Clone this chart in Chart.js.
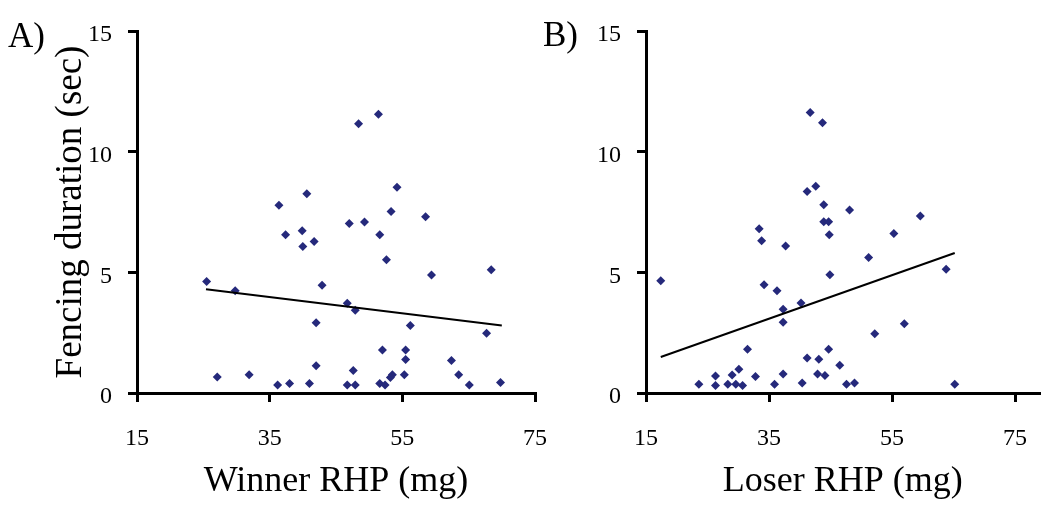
<!DOCTYPE html>
<html><head><meta charset="utf-8">
<script src="https://cdn.jsdelivr.net/npm/chart.js@4/dist/chart.umd.min.js"></script>
<style>
html,body{margin:0;padding:0;background:#fff;}
#wrap{position:relative;width:1050px;height:508px;overflow:hidden;background:#fff;}
canvas{position:absolute;top:0;}
.lbl{position:absolute;font-family:'Liberation Serif','Times New Roman',serif;font-size:35px;line-height:1;color:#000;white-space:nowrap;}
</style></head><body>
<div id="wrap">
<canvas id="cA" width="572" height="508" style="left:0px"></canvas>
<canvas id="cB" width="510" height="508" style="left:540px"></canvas>
<div class="lbl" style="left:8px;top:18px">A)</div>
<div class="lbl" style="left:543px;top:17px">B)</div>
</div>
<script>
// Panel A: winner RHP (mg) vs fencing duration (sec)
const winnerRHP = [48.4,51.4,40.6,36.4,54.2,37.4,39.9,40.0,41.7,47.0,49.3,53.3,51.6,58.5,52.6,68.4,
  25.5,29.8,42.9,46.7,47.9,59.4,42.0,56.2,67.7,52.0,55.5,55.5,62.4,42.0,47.6,27.1,31.9,55.3,53.5,53.2,63.5,
  36.2,38.0,41.0,46.7,47.9,51.6,52.4,65.1,69.8];
const fencingA = [11.16,11.55,8.26,7.78,8.53,6.56,6.72,6.07,6.28,7.02,7.09,7.52,6.56,7.30,5.52,5.11,
  4.62,4.24,4.46,3.72,3.43,4.89,2.91,2.80,2.48,1.78,1.78,1.39,1.35,1.13,0.93,0.66,0.76,0.76,0.76,0.64,0.76,
  0.33,0.39,0.39,0.33,0.33,0.39,0.33,0.33,0.44];
// Panel B: loser RHP (mg) vs fencing duration (sec)
const loserRHP = [41.7,43.7,41.2,42.6,43.9,48.1,59.6,43.9,44.7,44.8,33.4,33.8,37.7,55.3,51.2,63.8,
  17.4,44.9,34.2,36.3,40.2,37.3,37.3,57.0,52.2,31.5,44.7,41.2,43.1,46.5,30.1,29.0,26.3,32.8,37.3,42.9,44.1,
  23.6,26.3,28.3,29.6,30.7,35.9,40.4,47.6,48.9,65.2];
const fencingB = [11.62,11.20,8.35,8.57,7.80,7.58,7.33,7.10,7.10,6.56,6.81,6.31,6.09,6.61,5.61,5.13,
  4.65,4.90,4.49,4.24,3.73,3.47,2.93,2.87,2.46,1.81,1.81,1.45,1.40,1.15,0.98,0.75,0.70,0.68,0.79,0.79,0.73,
  0.36,0.31,0.36,0.36,0.31,0.36,0.41,0.36,0.41,0.36];
// Regression lines (end points)
const trendAx = [25.4, 70.0];
const trendAy = [4.30, 2.80];
const trendBx = [17.4, 65.2];
const trendBy = [1.49, 5.80];
// Tick labels
const xTickValues = [15, 35, 55, 75];
const yTickValues = [0, 5, 10, 15];

const FONT = "'Liberation Serif', 'Times New Roman', serif";
const MARK = '#25297b';

function makeChart(id, xs, ys, tx, ty, o) {
  const pts = xs.map((x, i) => ({x: x, y: ys[i]}));
  const line = tx.map((x, i) => ({x: x, y: ty[i]}));
  return new Chart(document.getElementById(id), {
    type: 'scatter',
    data: { datasets: [
      { data: line, showLine: true, borderColor: '#000', borderWidth: 2, pointRadius: 0, pointHoverRadius: 0, fill: false, order: 1 },
      { data: pts, pointStyle: 'rectRot', pointRadius: 4.5, pointHoverRadius: 4.5, backgroundColor: MARK, borderColor: MARK, borderWidth: 0, order: 2 }
    ]},
    options: {
      responsive: false, animation: false, devicePixelRatio: 1,
      layout: { padding: { top: 31, right: o.padRight, bottom: 0, left: 0 } },
      plugins: { legend: { display: false }, tooltip: { enabled: false }, title: { display: false } },
      events: [],
      scales: {
        x: {
          type: 'linear', min: 15, max: o.xMax,
          afterBuildTicks: s => { s.ticks = xTickValues.map(v => ({value: v})); },
          afterFit: s => { s.height = 115; },
          border: { display: true, color: '#000', width: 3 },
          grid: { drawOnChartArea: false, drawTicks: true, tickLength: 9, color: '#000', lineWidth: 3 },
          ticks: { color: '#000', font: { family: FONT, size: 24 }, padding: 22, maxRotation: 0, autoSkip: false },
          title: { display: true, text: o.xTitle, color: '#000', font: { family: FONT, size: 36 }, padding: { top: 0, bottom: 5 } }
        },
        y: {
          type: 'linear', min: 0, max: 15,
          afterBuildTicks: s => { s.ticks = yTickValues.map(v => ({value: v})); },
          afterFit: s => { s.width = o.yWidth; },
          border: { display: true, color: '#000', width: 3 },
          grid: { drawOnChartArea: false, drawTicks: true, tickLength: 9, color: '#000', lineWidth: 3 },
          ticks: { color: '#000', font: { family: FONT, size: 24 }, padding: 16, labelOffset: 4, autoSkip: false },
          title: { display: !!o.yTitle, text: o.yTitle || '', color: '#000', font: { family: FONT, size: 37 }, padding: { top: 49, bottom: 0 } }
        }
      }
    }
  });
}

makeChart('cA', winnerRHP, fencingA, trendAx, trendAy,
  { xMax: 75, padRight: 37, yWidth: 137, xTitle: 'Winner RHP (mg)', yTitle: 'Fencing duration (sec)' });
makeChart('cB', loserRHP, fencingB, trendBx, trendBy,
  { xMax: 79, padRight: 10.4, yWidth: 106, xTitle: 'Loser RHP (mg)', yTitle: '' });
</script>
</body></html>
